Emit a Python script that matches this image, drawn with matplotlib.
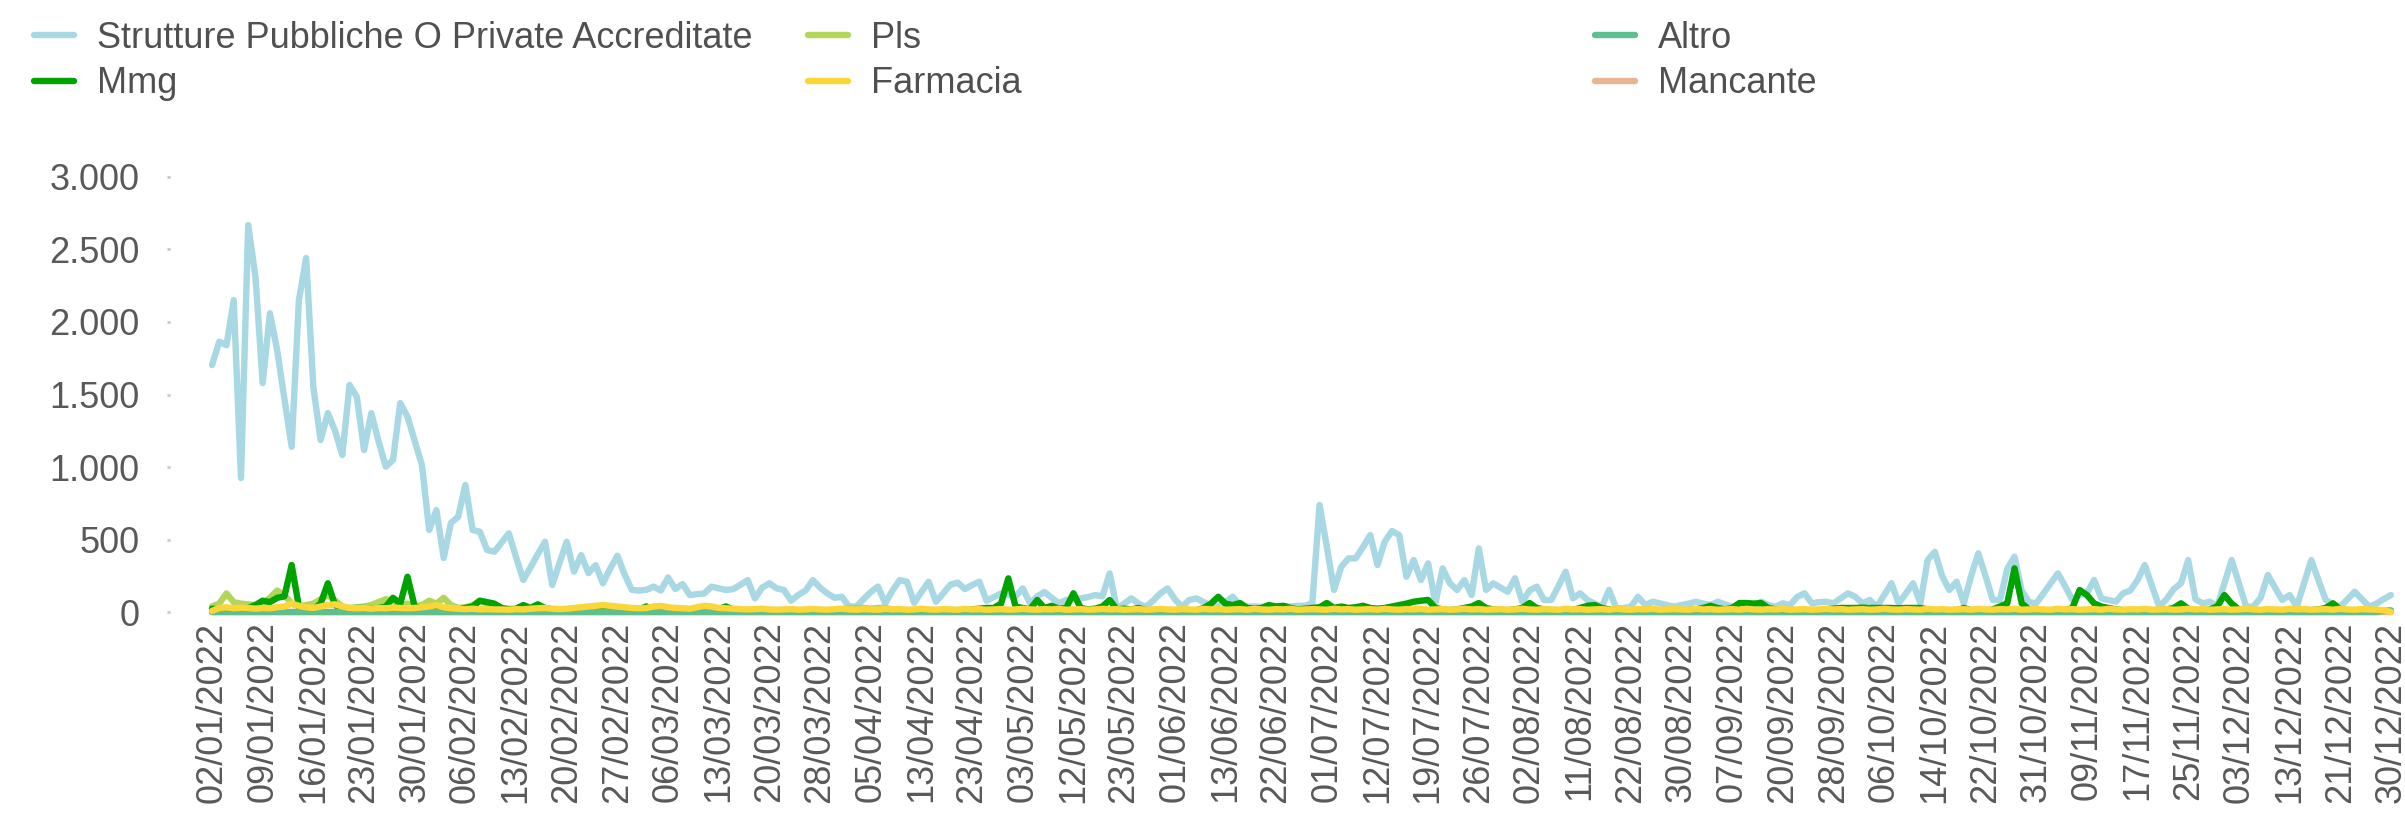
import matplotlib
matplotlib.use("Agg")
import matplotlib.pyplot as plt
from matplotlib.ticker import FuncFormatter
import numpy as np

plt.rcParams['font.family'] = ['Liberation Sans', 'DejaVu Sans']

# one label every 7 categories (days with data)
tick_labels = [
    "02/01/2022", "09/01/2022", "16/01/2022", "23/01/2022", "30/01/2022",
    "06/02/2022", "13/02/2022", "20/02/2022", "27/02/2022", "06/03/2022",
    "13/03/2022", "20/03/2022", "28/03/2022", "05/04/2022", "13/04/2022",
    "23/04/2022", "03/05/2022", "12/05/2022", "23/05/2022", "01/06/2022",
    "13/06/2022", "22/06/2022", "01/07/2022", "12/07/2022", "19/07/2022",
    "26/07/2022", "02/08/2022", "11/08/2022", "22/08/2022", "30/08/2022",
    "07/09/2022", "20/09/2022", "28/09/2022", "06/10/2022", "14/10/2022",
    "22/10/2022", "31/10/2022", "09/11/2022", "17/11/2022", "25/11/2022",
    "03/12/2022", "13/12/2022", "21/12/2022", "30/12/2022",
]

strutture = [
    1703, 1864, 1840, 2150, 925, 2667, 2311, 1579, 2060, 1806,
    1470, 1140, 2150, 2440, 1550, 1187, 1372, 1250, 1083, 1566,
    1485, 1118, 1372, 1180, 1003, 1049, 1441, 1347, 1180, 1014,
    567, 704, 374, 615, 658, 877, 567, 555, 429, 417,
    480, 544, 380, 222, 310, 400, 486, 188, 340, 486,
    280, 394, 270, 325, 200, 300, 390, 260, 154, 150,
    155, 177, 150, 240, 160, 195, 119, 125, 130, 177,
    165, 154, 160, 190, 222, 96, 170, 200, 165, 154,
    80, 120, 150, 222, 170, 130, 100, 107, 40, 40,
    90, 140, 177, 62, 150, 222, 211, 65, 140, 211,
    73, 130, 190, 205, 160, 188, 211, 80, 105, 130,
    120, 110, 165, 62, 110, 140, 100, 62, 85, 90,
    96, 105, 119, 110, 268, 25, 60, 96, 60, 37,
    80, 130, 165, 90, 37, 85, 96, 70, 50, 39,
    70, 107, 50, 39, 40, 38, 40, 42, 40, 40,
    45, 45, 64, 739, 452, 154, 314, 372, 372, 450,
    532, 326, 486, 560, 532, 245, 360, 222, 337, 62,
    303, 200, 154, 222, 119, 440, 154, 200, 170, 142,
    234, 73, 150, 177, 85, 85, 180, 280, 96, 131,
    85, 60, 39, 154, 27, 30, 39, 107, 50, 73,
    62, 50, 39, 50, 60, 73, 60, 50, 73, 55,
    39, 39, 39, 39, 73, 50, 39, 62, 50, 107,
    131, 62, 70, 73, 62, 96, 131, 107, 62, 85,
    39, 120, 200, 62, 130, 200, 62, 360, 417, 250,
    154, 211, 62, 250, 406, 250, 85, 85, 300, 383,
    150, 70, 62, 130, 200, 268, 180, 85, 120, 131,
    222, 96, 85, 73, 131, 150, 222, 326, 180, 39,
    90, 160, 200, 360, 90, 62, 73, 39, 200, 360,
    200, 39, 39, 100, 257, 170, 85, 119, 39, 200,
    360, 220, 85, 55, 39, 90, 142, 90, 39, 60,
    90, 119,
]

mmg = [
    25, 20, 10, 15, 20, 30, 50, 80, 70, 100,
    110, 326, 40, 30, 20, 60, 200, 50, 20, 25,
    30, 30, 25, 30, 40, 100, 60, 245, 40, 25,
    30, 20, 15, 15, 20, 30, 40, 80, 70, 60,
    30, 20, 25, 50, 30, 55, 30, 20, 15, 15,
    10, 10, 15, 10, 10, 12, 15, 10, 10, 20,
    40, 15, 10, 10, 10, 8, 10, 10, 12, 10,
    20, 40, 15, 10, 8, 8, 10, 8, 8, 10,
    8, 10, 10, 12, 10, 10, 8, 10, 10, 12,
    10, 10, 10, 8, 10, 12, 10, 8, 10, 10,
    10, 12, 10, 10, 15, 20, 25, 30, 30, 60,
    234, 40, 30, 20, 85, 30, 45, 25, 30, 131,
    30, 20, 25, 40, 85, 20, 25, 20, 30, 15,
    10, 12, 10, 15, 10, 10, 15, 30, 60, 107,
    60, 50, 64, 30, 25, 30, 50, 40, 45, 30,
    20, 25, 30, 35, 64, 30, 40, 30, 35, 45,
    30, 25, 30, 40, 50, 60, 73, 80, 85, 30,
    20, 15, 20, 30, 40, 64, 30, 20, 15, 15,
    20, 30, 64, 30, 20, 15, 10, 10, 15, 30,
    45, 50, 30, 20, 10, 10, 12, 15, 10, 10,
    10, 10, 12, 10, 15, 20, 30, 45, 30, 20,
    30, 64, 64, 60, 64, 30, 20, 15, 10, 12,
    10, 10, 15, 20, 25, 30, 30, 30, 32, 30,
    30, 30, 30, 28, 30, 30, 30, 20, 15, 10,
    10, 12, 30, 15, 10, 10, 20, 40, 62, 303,
    62, 20, 15, 10, 12, 10, 15, 30, 154, 119,
    62, 40, 30, 20, 15, 10, 15, 12, 10, 15,
    20, 30, 62, 25, 15, 12, 20, 40, 119, 60,
    20, 15, 10, 12, 10, 10, 15, 12, 10, 15,
    15, 20, 30, 62, 20, 10, 10, 12, 10, 10,
    8, 8,
]

pls = [
    40, 60, 130, 70, 60, 55, 50, 60, 100, 150,
    120, 60, 40, 50, 60, 90, 120, 80, 40, 30,
    35, 40, 50, 70, 90, 80, 50, 60, 40, 50,
    80, 60, 100, 50, 30, 35, 50, 80, 60, 50,
    30, 25, 20, 30, 20, 30, 20, 15, 20, 15,
    15, 12, 15, 10, 10, 10, 12, 10, 15, 20,
    40, 15, 10, 12, 10, 10, 8, 10, 10, 12,
    25, 40, 20, 10, 8, 8, 10, 8, 8, 10,
    8, 8, 10, 8, 10, 8, 10, 10, 30, 30,
    30, 25, 30, 30, 20, 10, 8, 8, 8, 10,
    5, 5, 6, 5, 5, 8, 5, 5, 6, 5,
    5, 5, 6, 5, 5, 5, 6, 5, 5, 5,
    5, 6, 5, 5, 5, 5, 6, 5, 5, 5,
    5, 5, 5, 6, 5, 5, 5, 5, 6, 5,
    5, 5, 6, 5, 5, 5, 5, 6, 5, 5,
    5, 6, 5, 5, 5, 5, 5, 6, 5, 5,
    5, 5, 6, 5, 5, 5, 6, 5, 5, 5,
    5, 5, 5, 6, 5, 5, 5, 5, 6, 5,
    5, 6, 5, 5, 5, 5, 6, 5, 5, 5,
    5, 5, 5, 6, 5, 5, 5, 5, 5, 6,
    5, 5, 6, 5, 5, 5, 5, 6, 5, 5,
    5, 6, 5, 5, 5, 5, 5, 6, 5, 5,
    5, 5, 6, 5, 5, 5, 6, 5, 5, 5,
    5, 5, 5, 6, 5, 5, 5, 5, 6, 5,
    5, 6, 5, 5, 5, 5, 6, 5, 5, 5,
    5, 5, 5, 6, 5, 5, 5, 5, 5, 6,
    5, 5, 6, 5, 5, 5, 5, 6, 5, 5,
    5, 6, 5, 5, 5, 5, 5, 6, 5, 5,
    5, 5, 6, 5, 5, 5, 6, 5, 5, 5,
    5, 5, 5, 6, 5, 5, 5, 5, 6, 5,
    5, 5,
]

farmacia = [
    10, 30, 35, 28, 32, 30, 25, 30, 28, 35,
    40, 60, 45, 35, 30, 40, 50, 55, 40, 30,
    28, 30, 25, 30, 28, 32, 30, 28, 30, 35,
    40, 50, 35, 28, 25, 22, 25, 20, 22, 20,
    20, 18, 22, 20, 25, 28, 30, 25, 22, 25,
    30, 35, 40, 45, 50, 45, 40, 35, 30, 28,
    30, 40, 45, 35, 30, 28, 25, 35, 45, 40,
    30, 28, 25, 22, 20, 22, 25, 20, 18, 20,
    22, 18, 20, 24, 20, 18, 22, 25, 20, 18,
    22, 20, 18, 24, 20, 22, 18, 20, 25, 20,
    18, 22, 20, 18, 24, 20, 22, 18, 20, 22,
    18, 20, 24, 20, 18, 22, 20, 24, 18, 20,
    22, 18, 20, 24, 20, 22, 18, 20, 22, 18,
    20, 24, 20, 18, 22, 20, 18, 24, 20, 22,
    18, 20, 22, 18, 24, 20, 18, 22, 20, 24,
    18, 20, 22, 20, 18, 24, 20, 22, 18, 20,
    22, 18, 24, 20, 18, 22, 20, 24, 18, 20,
    22, 18, 20, 24, 20, 22, 18, 20, 22, 18,
    20, 24, 20, 18, 22, 20, 18, 24, 20, 22,
    18, 20, 22, 18, 24, 20, 18, 22, 20, 24,
    18, 20, 22, 20, 18, 24, 20, 22, 18, 20,
    22, 18, 24, 20, 18, 22, 20, 24, 18, 20,
    22, 18, 20, 24, 20, 22, 18, 20, 22, 18,
    20, 24, 20, 18, 22, 20, 18, 24, 20, 22,
    18, 20, 22, 18, 24, 20, 18, 22, 20, 24,
    18, 20, 22, 20, 18, 24, 20, 22, 18, 20,
    22, 18, 24, 20, 18, 22, 20, 24, 18, 20,
    22, 18, 20, 24, 20, 22, 18, 20, 22, 18,
    20, 24, 20, 18, 22, 20, 18, 24, 20, 22,
    18, 20, 22, 18, 24, 20, 18, 22, 20, 18,
    15, 3,
]

altro = [
    2, 2, 2, 2, 2, 2, 2, 2, 2, 2, 2, 2, 2, 2, 2, 2, 2, 2, 2, 2,
    2, 2, 2, 2, 2, 2, 2, 2, 2, 2, 2, 2, 2, 2, 2, 2, 2, 2, 2, 2,
    2, 2, 2, 2, 2, 2, 2, 2, 2, 2, 2, 2, 2, 2, 2, 2, 2, 2, 2, 2,
    2, 2, 2, 2, 2, 2, 2, 2, 2, 2, 2, 2, 2, 2, 2, 2, 2, 2, 2, 2,
    2, 2, 2, 2, 2, 2, 2, 2, 2, 2, 2, 2, 2, 2, 2, 2, 2, 2, 2, 2,
    2, 2, 2, 2, 2, 2, 2, 2, 2, 2, 2, 2, 2, 2, 2, 2, 2, 2, 2, 2,
    2, 2, 2, 2, 2, 2, 2, 2, 2, 2, 2, 2, 2, 2, 2, 2, 2, 2, 2, 2,
    2, 2, 2, 2, 2, 2, 2, 2, 2, 2, 2, 2, 2, 2, 2, 2, 2, 2, 2, 2,
    2, 2, 2, 2, 2, 2, 2, 2, 2, 2, 2, 2, 2, 2, 2, 2, 2, 2, 2, 2,
    2, 2, 2, 2, 2, 2, 2, 2, 2, 2, 2, 2, 2, 2, 2, 2, 2, 2, 2, 2,
    2, 2, 2, 2, 2, 2, 2, 2, 2, 2, 2, 2, 2, 2, 2, 2, 2, 2, 2, 2,
    2, 2, 2, 2, 2, 2, 2, 2, 2, 2, 2, 2, 2, 2, 2, 2, 2, 2, 2, 2,
    2, 2, 2, 2, 2, 2, 2, 2, 2, 2, 2, 2, 2, 2, 2, 2, 2, 2, 2, 2,
    2, 2, 2, 2, 2, 2, 2, 2, 2, 2, 2, 2, 2, 2, 2, 2, 2, 2, 2, 2,
    2, 2, 2, 2, 2, 2, 2, 2, 2, 2, 2, 2, 2, 2, 2, 2, 2, 2, 2, 2,
    10, 14,
]

mancante = [
    0, 0, 0, 0, 0, 0, 0, 0, 0, 0, 0, 0, 0, 0, 0, 0, 0, 0, 0, 0,
    0, 0, 0, 0, 0, 0, 0, 0, 0, 0, 0, 0, 0, 0, 0, 0, 0, 0, 0, 0,
    0, 0, 0, 0, 0, 0, 0, 0, 0, 0, 0, 0, 0, 0, 0, 0, 0, 0, 0, 0,
    0, 0, 0, 0, 0, 0, 0, 0, 0, 0, 0, 0, 0, 0, 0, 0, 0, 0, 0, 0,
    0, 0, 0, 0, 0, 0, 0, 0, 0, 0, 0, 0, 0, 0, 0, 0, 0, 0, 0, 0,
    0, 0, 0, 0, 0, 0, 0, 0, 0, 0, 0, 0, 0, 0, 0, 0, 0, 0, 0, 0,
    0, 0, 0, 0, 0, 0, 0, 0, 0, 0, 0, 0, 0, 0, 0, 0, 0, 0, 0, 0,
    0, 0, 0, 0, 0, 0, 0, 0, 0, 0, 0, 0, 0, 0, 0, 0, 0, 0, 0, 0,
    0, 0, 0, 0, 0, 0, 0, 0, 0, 0, 0, 0, 0, 0, 0, 0, 0, 0, 0, 0,
    0, 0, 0, 0, 0, 0, 0, 0, 0, 0, 0, 0, 0, 0, 0, 0, 0, 0, 0, 0,
    0, 0, 0, 0, 0, 0, 0, 0, 0, 0, 0, 0, 0, 0, 0, 0, 0, 0, 0, 0,
    0, 0, 0, 0, 0, 0, 0, 0, 0, 0, 0, 0, 0, 0, 0, 0, 0, 0, 0, 0,
    0, 0, 0, 0, 0, 0, 0, 0, 0, 0, 0, 0, 0, 0, 0, 0, 0, 0, 0, 0,
    0, 0, 0, 0, 0, 0, 0, 0, 0, 0, 0, 0, 0, 0, 0, 0, 0, 0, 0, 0,
    0, 0, 0, 0, 0, 0, 0, 0, 0, 0, 0, 0, 0, 0, 0, 0, 0, 0, 0, 0,
    0, 0,
]

series = [
    ("Strutture Pubbliche O Private Accreditate", strutture, "#a7d8e4", 1),
    ("Mmg", mmg, "#00a300", 3),
    ("Pls", pls, "#b3d65a", 2),
    ("Farmacia", farmacia, "#fbd637", 6),
    ("Altro", altro, "#5fbf8f", 5),
    ("Mancante", mancante, "#e9b48f", 4),
]

fig = plt.figure(figsize=(24.05, 8.17), dpi=100)
ax = fig.add_axes([0.0707, 0.2411, 0.9272, 0.5753])

x = np.arange(len(strutture))
handles = []
for name, vals, col, z in series:
    ln, = ax.plot(x, vals, color=col, lw=4.6, zorder=z,
                  solid_joinstyle="round", solid_capstyle="round", label=name)
    handles.append(ln)

ax.set_xlim(-5.8, 302.25)
ax.set_ylim(-53, 3184)
ax.set_yticks([0, 500, 1000, 1500, 2000, 2500, 3000])
ax.yaxis.set_major_formatter(FuncFormatter(lambda v, p: f"{v:,.0f}".replace(",", ".")))
ax.set_xticks(x[::7])
ax.set_xticklabels(tick_labels, rotation=90)

for s in ax.spines.values():
    s.set_visible(False)
ax.tick_params(axis="y", length=2, width=2, color="#c8c8c8", pad=20,
               labelsize=26, labelcolor="#595959")
ax.tick_params(axis="x", length=0, pad=1, labelsize=26, labelcolor="#595959")

# three legend blocks, two rows each
leg_x = [34, 808, 1595]
for i in range(3):
    leg = fig.legend(handles[2 * i:2 * i + 2], [h.get_label() for h in handles[2 * i:2 * i + 2]],
                     loc="upper left", bbox_to_anchor=(leg_x[i] / 2405, 1 - 21 / 817),
                     frameon=False, borderpad=0, borderaxespad=0, fontsize=26,
                     handlelength=1.1, handletextpad=0.65, labelspacing=0.29,
                     labelcolor="#505050")
    for ln in leg.get_lines():
        ln.set_linewidth(4.6)

fig.savefig("out.png", dpi=100)
